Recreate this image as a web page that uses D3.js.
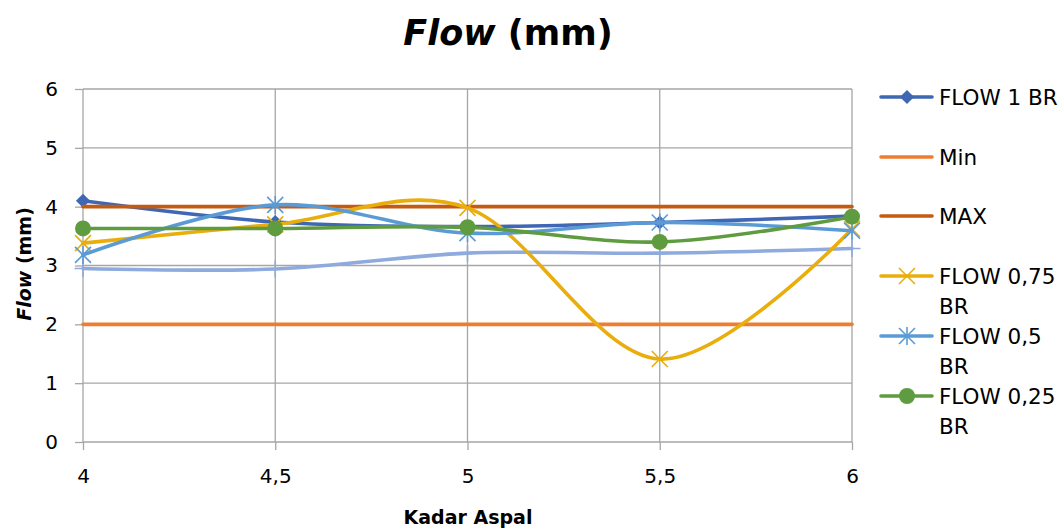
<!DOCTYPE html>
<html><head><meta charset="utf-8">
<script src="https://cdn.jsdelivr.net/npm/d3@7"></script>
<style>body{margin:0;background:#fff;} svg{display:block;font-family:'DejaVu Sans',sans-serif;}</style>
</head><body>
<svg id="c" width="1063" height="530"></svg>
<script>
const categories = ["4","4,5","5","5,5","6"];
const yTicks = [0,1,2,3,4,5,6];
const flow1 = [4.10, 3.74, 3.66, 3.73, 3.84];
const minVals = [2, 2, 2, 2, 2];
const maxVals = [4, 4, 4, 4, 4];
const flow075 = [3.38, 3.70, 3.98, 1.41, 3.62];
const flow05 = [3.18, 4.03, 3.55, 3.73, 3.59];
const flow025 = [3.63, 3.63, 3.65, 3.40, 3.83];
const extra = [2.95, 2.94, 3.21, 3.21, 3.29];

const series = [
  {name:null, values:extra, color:"#8FAADC", marker:"plus", smooth:true},
  {name:"FLOW 1 BR", values:flow1, color:"#3F67B4", marker:"diamond", smooth:true},
  {name:"Min", values:minVals, color:"#ED7D31", marker:null, smooth:false},
  {name:"MAX", values:maxVals, color:"#C55A11", marker:null, smooth:false},
  {name:"FLOW 0,75 BR", values:flow075, color:"#E9AD0C", marker:"x", smooth:true},
  {name:"FLOW 0,5 BR", values:flow05, color:"#5B9BD5", marker:"star", smooth:true},
  {name:"FLOW 0,25 BR", values:flow025, color:"#5F9B3F", marker:"circle", smooth:true}
];

const FONT = "'DejaVu Sans',sans-serif";
const svg = d3.select("#c");
const L=83, R=852, T=89, B=442;
const x = d3.scalePoint().domain(categories).range([L,R]);
const y = d3.scaleLinear().domain([0,6]).range([B,T]);

// gridlines
svg.append("g").selectAll("line").data(yTicks).join("line")
  .attr("x1",L).attr("x2",R).attr("y1",d=>y(d)).attr("y2",d=>y(d))
  .attr("stroke","#A6A6A6").attr("stroke-width",1.3);
svg.append("g").selectAll("line").data(categories).join("line")
  .attr("x1",d=>x(d)).attr("x2",d=>x(d)).attr("y1",T).attr("y2",B)
  .attr("stroke","#A6A6A6").attr("stroke-width",1.3);

// axes via d3
const yAxis = svg.append("g").attr("transform",`translate(${L},0)`)
  .call(d3.axisLeft(y).tickValues(yTicks).tickFormat(d3.format("d")).tickSize(8).tickPadding(17));
yAxis.select(".domain").remove();
yAxis.selectAll(".tick line").attr("stroke","#A6A6A6").attr("stroke-width",1.3);
yAxis.selectAll("text").attr("font-size",20).attr("fill","#000").attr("font-family",FONT);
const xAxis = svg.append("g").attr("transform",`translate(0,${B})`)
  .call(d3.axisBottom(x).tickSize(8).tickPadding(19));
xAxis.select(".domain").remove();
xAxis.selectAll(".tick line").attr("stroke","#A6A6A6").attr("stroke-width",1.3);
xAxis.selectAll("text").attr("font-size",20).attr("fill","#000").attr("font-family",FONT);

// lines
function lineGen(smooth){
  return d3.line().x((d,i)=>x(categories[i])).y(d=>y(d))
    .curve(smooth ? d3.curveCardinal.tension(0) : d3.curveLinear);
}
function drawMarker(g, type, cx, cy, color){
  if(type==="diamond"){
    g.append("path").attr("d",d3.symbol(d3.symbolSquare, 100)())
      .attr("transform",`translate(${cx},${cy}) rotate(45)`).attr("fill",color);
  } else if(type==="circle"){
    g.append("circle").attr("cx",cx).attr("cy",cy).attr("r",8).attr("fill",color);
  } else if(type==="x"){
    const s=8;
    g.append("path").attr("d",`M${cx-s},${cy-s}L${cx+s},${cy+s}M${cx-s},${cy+s}L${cx+s},${cy-s}`)
      .attr("stroke",color).attr("stroke-width",1.6).attr("fill","none");
  } else if(type==="star"){
    const s=8;
    g.append("path").attr("d",`M${cx-s},${cy-s}L${cx+s},${cy+s}M${cx-s},${cy+s}L${cx+s},${cy-s}M${cx},${cy-s-1}L${cx},${cy+s+1}`)
      .attr("stroke",color).attr("stroke-width",1.6).attr("fill","none");
  } else if(type==="plus"){
    const s=8.5;
    g.append("path").attr("d",`M${cx-s},${cy}L${cx+s},${cy}M${cx},${cy-s}L${cx},${cy+s}`)
      .attr("stroke",color).attr("stroke-width",1.6).attr("fill","none");
  }
}
series.forEach(s=>{
  const g = svg.append("g");
  g.append("path").datum(s.values).attr("d",lineGen(s.smooth))
    .attr("fill","none").attr("stroke",s.color).attr("stroke-width",3.6)
    .attr("stroke-linecap","round").attr("stroke-linejoin","round");
  if(s.marker) s.values.forEach((v,i)=>drawMarker(g,s.marker,x(categories[i]),y(v),s.color));
});

// title
const title = svg.append("text").attr("x",508).attr("y",45).attr("text-anchor","middle")
  .attr("font-size",35).attr("font-weight","bold").attr("fill","#000");
title.append("tspan").attr("font-style","italic").text("Flow");
title.append("tspan").text(" (mm)");

// y axis title
const yt = svg.append("text").attr("transform","translate(31,264) rotate(-90)").attr("text-anchor","middle")
  .attr("font-size",19).attr("font-weight","bold").attr("fill","#000");
yt.append("tspan").attr("font-style","italic").text("Flow");
yt.append("tspan").text(" (mm)");

// x axis title
svg.append("text").attr("x",468).attr("y",524).attr("text-anchor","middle")
  .attr("font-size",19).attr("font-weight","bold").attr("fill","#000").text("Kadar Aspal");

// legend
const legendItems = [
  {s:series[1], y:97, lines:["FLOW 1 BR"]},
  {s:series[2], y:157, lines:["Min"]},
  {s:series[3], y:216, lines:["MAX"]},
  {s:series[4], y:276, lines:["FLOW 0,75","BR"]},
  {s:series[5], y:336, lines:["FLOW 0,5","BR"]},
  {s:series[6], y:396, lines:["FLOW 0,25","BR"]}
];
const lg = svg.append("g");
legendItems.forEach(it=>{
  lg.append("line").attr("x1",881).attr("x2",932).attr("y1",it.y).attr("y2",it.y)
    .attr("stroke",it.s.color).attr("stroke-width",3.6).attr("stroke-linecap","round");
  if(it.s.marker) drawMarker(lg,it.s.marker,907,it.y,it.s.color);
  it.lines.forEach((t,j)=>{
    lg.append("text").attr("x",939).attr("y",it.y+8+j*30).attr("font-size",21.5).attr("fill","#000").text(t);
  });
});
</script>
</body></html>
